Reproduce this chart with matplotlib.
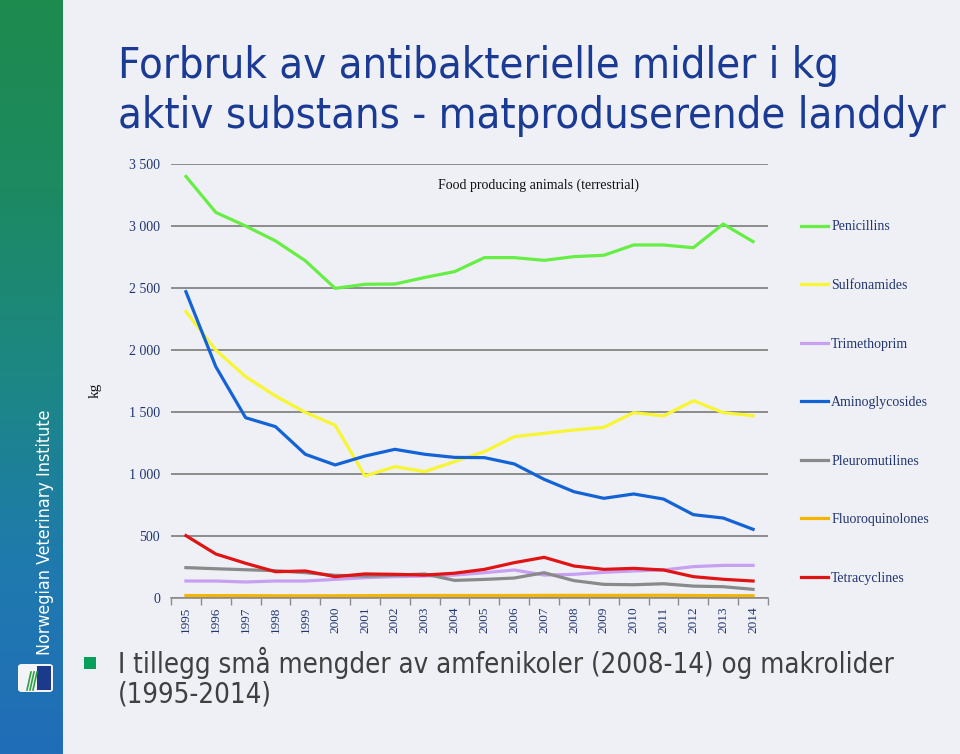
import numpy as np
import matplotlib.pyplot as plt
from matplotlib import font_manager
from matplotlib.patches import FancyBboxPatch, Rectangle
from matplotlib.colors import LinearSegmentedColormap

# Data (kg active substance)
years = [str(y) for y in range(1995, 2015)]
penicillins = [3400, 3110, 3000, 2880, 2720, 2497, 2530, 2532, 2585, 2632,
               2745, 2745, 2723, 2753, 2764, 2847, 2847, 2825, 3016, 2874]
sulfonamides = [2310, 2000, 1785, 1629, 1497, 1393, 984, 1059, 1019, 1100,
                1180, 1301, 1328, 1355, 1376, 1495, 1468, 1591, 1495, 1470]
trimethoprim = [137, 137, 129, 137, 137, 150, 164, 172, 177, 185,
                204, 226, 185, 191, 207, 218, 226, 253, 263, 263]
aminoglycosides = [2470, 1866, 1454, 1382, 1159, 1073, 1145, 1199, 1159, 1134,
                   1132, 1081, 957, 857, 804, 839, 798, 672, 645, 554]
pleuromutilines = [245, 236, 228, 220, 204, 183, 177, 183, 194, 142,
                   150, 161, 204, 140, 110, 107, 115, 96, 91, 70]
fluoroquinolones = [20, 19, 19, 18, 18, 18, 19, 20, 20, 20,
                    20, 20, 21, 21, 21, 21, 22, 20, 19, 18]
tetracyclines = [503, 355, 280, 212, 218, 172, 194, 191, 185, 200,
                 231, 285, 328, 258, 231, 239, 226, 172, 151, 137]

series_names = ['Penicillins', 'Sulfonamides', 'Trimethoprim', 'Aminoglycosides',
                'Pleuromutilines', 'Fluoroquinolones', 'Tetracyclines']
series_values = [penicillins, sulfonamides, trimethoprim, aminoglycosides,
                 pleuromutilines, fluoroquinolones, tetracyclines]
series_colors = ['#66EE44', '#F8F532', '#C8A0F2', '#1463D6',
                 '#8A8A8A', '#F4B400', '#E01414']

BG = '#EEF0F6'
NAVY = '#22356F'
TITLE_BLUE = '#1A3A94'

# narrow sans for the slide text: condensed DejaVu if installed, else Open Sans
condensed = any(f.name == 'DejaVu Sans' and f.stretch == 'condensed'
                for f in font_manager.fontManager.ttflist)
if condensed:
    slide = dict(family='DejaVu Sans', fontstretch='condensed')
    title_size, foot_size, band_size = 31.2, 19.8, 12.8
else:
    slide = dict(family='Open Sans')
    title_size, foot_size, band_size = 29, 19.6, 12.5
serif = ['Liberation Serif', 'DejaVu Serif']

fig = plt.figure(figsize=(9.6, 7.54), dpi=100)
fig.patch.set_facecolor(BG)

# left band with gradient
band = fig.add_axes([0, 0, 63 / 960, 1])
band_cmap = LinearSegmentedColormap.from_list(
    'band', ['#1E8B4E', '#1D8A62', '#1C8784', '#1F7AAE', '#216DB8'])
band.imshow(np.linspace(0, 1, 256).reshape(-1, 1), aspect='auto', cmap=band_cmap,
            extent=[0, 1, 0, 1], origin='upper')
band.set_xlim(0, 1)
band.set_ylim(0, 1)
band.axis('off')
fig.text(45 / 960, 1 - 655 / 754, 'Norwegian Veterinary Institute', rotation=90,
         color='white', fontsize=band_size, ha='center', va='bottom', **slide)

# simple logo
fig.patches.append(FancyBboxPatch((18 / 960, 1 - 692 / 754), 35 / 960, 28 / 754,
                                  boxstyle='round,pad=0,rounding_size=0.004',
                                  transform=fig.transFigure, facecolor='#F2F4F8',
                                  edgecolor='none'))
fig.patches.append(Rectangle((37 / 960, 1 - 690 / 754), 14 / 960, 24 / 754,
                             transform=fig.transFigure, facecolor='#1B3A8C',
                             edgecolor='none'))
for dx in (27, 30, 33):
    fig.lines.append(plt.Line2D([dx / 960, (dx + 4) / 960],
                                [1 - 690 / 754, 1 - 672 / 754],
                                transform=fig.transFigure, color='#2EA043', lw=1.2))

# title
fig.text(118 / 960, 1 - 66 / 754, 'Forbruk av antibakterielle midler i kg',
         color=TITLE_BLUE, fontsize=title_size, va='center', **slide)
fig.text(118 / 960, 1 - 116 / 754, 'aktiv substans - matproduserende landdyr',
         color=TITLE_BLUE, fontsize=title_size, va='center', **slide)

# chart
ax = fig.add_axes([171 / 960, 1 - 598 / 754, 597 / 960, 434 / 754])
ax.set_facecolor('none')
x = np.arange(len(years))
for name, vals, col in zip(series_names, series_values, series_colors):
    ax.plot(x, vals, color=col, lw=2.3, label=name, solid_joinstyle='round')

ax.set_xlim(-0.5, len(years) - 0.5)
ax.set_ylim(0, 3500)
yt = np.arange(0, 3501, 500)
ax.set_yticks(yt)
ax.set_yticklabels([f'{v:,}'.replace(',', ' ') for v in yt], family=serif,
                   fontsize=10, color=NAVY)
ax.yaxis.grid(True, color='#8C8C8C', lw=1.4)
ax.set_axisbelow(True)
ax.tick_params(axis='y', length=0, pad=8)

ax.set_xticks(x)
ax.set_xticklabels(years, rotation=90, family=serif, fontsize=9.5, color=NAVY)
ax.set_xticks(np.arange(-0.5, len(years)), minor=True)
ax.tick_params(axis='x', which='major', length=0, pad=6)
ax.tick_params(axis='x', which='minor', length=5, color='#8C8C8C', width=1)
for s in ['left', 'right', 'top']:
    ax.spines[s].set_visible(False)
ax.spines['bottom'].set_color('#8C8C8C')
ax.spines['bottom'].set_linewidth(1.2)

ax.text(0.615, 0.952, 'Food producing animals (terrestrial)', transform=ax.transAxes,
        ha='center', va='center', family=serif, fontsize=10, color='#111111')
fig.text(95 / 960, 1 - 390 / 754, 'kg', rotation=90, ha='center', va='center',
         family=serif, fontsize=11, color='#111111')

leg = ax.legend(loc='upper left', bbox_to_anchor=(788 / 960, 1 - 208 / 754),
                bbox_transform=fig.transFigure, frameon=False,
                prop={'family': serif, 'size': 10},
                handlelength=1.95, handletextpad=0.25, labelspacing=3.28)
for t in leg.get_texts():
    t.set_color(NAVY)
for h in leg.get_lines():
    h.set_linewidth(2.3)

# footnote
fig.patches.append(Rectangle((84 / 960, 1 - 669 / 754), 12 / 960, 12 / 754,
                             transform=fig.transFigure, facecolor='#06A05A',
                             edgecolor='none'))
fig.text(118 / 960, 1 - 663 / 754,
         'I tillegg små mengder av amfenikoler (2008-14) og makrolider',
         color='#404040', fontsize=foot_size, va='center', **slide)
fig.text(118 / 960, 1 - 695 / 754, '(1995-2014)',
         color='#404040', fontsize=foot_size, va='center', **slide)

fig.savefig('out.png', dpi=100, facecolor=BG)
